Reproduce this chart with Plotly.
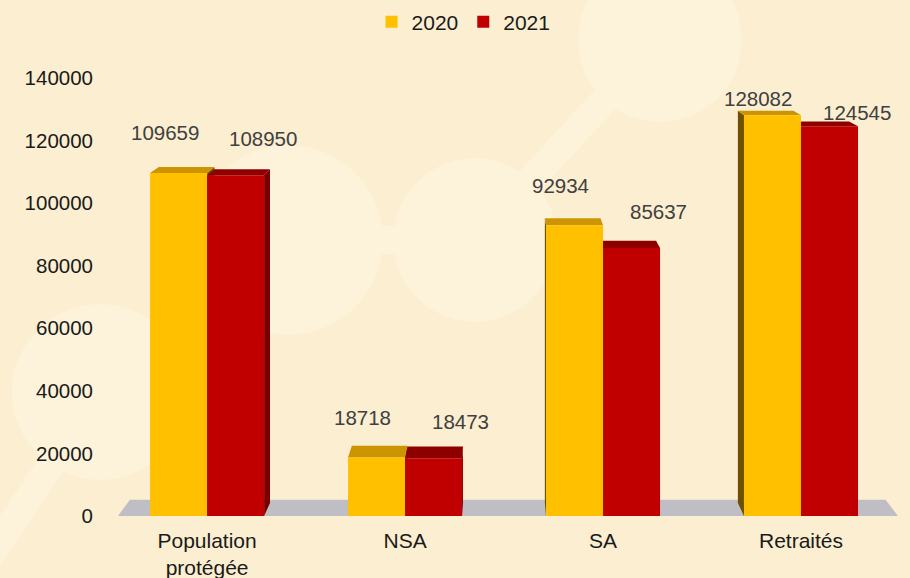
import plotly.graph_objects as go

# Données
categories = ["Population<br>protégée", "NSA", "SA", "Retraités"]
years = ["2020", "2021"]
values_2020 = [109659, 18718, 92934, 128082]
values_2021 = [108950, 18473, 85637, 124545]
y_ticks = [0, 20000, 40000, 60000, 80000, 100000, 120000, 140000]

# Mise en page (pixels)
W, H = 910, 578
M_L, M_R, M_T, M_B = 118, 12, 78, 62
PLOT_W = W - M_L - M_R
PLOT_H = H - M_T - M_B
X_RANGE = [-0.45, 3.49]
Y_RANGE = [0, 140000]
BAR_W = 0.288

BG = "#FCEED0"
BG_LIGHT = "#FDF2DA"
FONT = "Liberation Sans, Arial, sans-serif"

# couleurs: face avant, dessus, côté
COLORS = {
    "2020": ("#FFC000", "#CC9400", "#6E5000"),
    "2021": ("#C00000", "#8E0000", "#780000"),
}

# perspective simple pour l'effet 3D
EYE_X, EYE_Y = 500, -104
DEPTH_X, DEPTH_Y = 0.025, 0.021


def to_px(x, y):
    px = M_L + (x - X_RANGE[0]) / (X_RANGE[1] - X_RANGE[0]) * PLOT_W
    py = M_T + PLOT_H - (y - Y_RANGE[0]) / (Y_RANGE[1] - Y_RANGE[0]) * PLOT_H
    return px, py


def to_data(px, py):
    x = X_RANGE[0] + (px - M_L) / PLOT_W * (X_RANGE[1] - X_RANGE[0])
    y = Y_RANGE[0] + (M_T + PLOT_H - py) / PLOT_H * (Y_RANGE[1] - Y_RANGE[0])
    return x, y


def to_paper(px, py):
    return (px - M_L) / PLOT_W, (M_T + PLOT_H - py) / PLOT_H


def back(x, y, k=1.0):
    px, py = to_px(x, y)
    bx = px + (EYE_X - px) * DEPTH_X * k
    by = py + (EYE_Y - py) * DEPTH_Y * k
    return to_data(bx, by)


def path(points):
    return "M " + " L ".join(f"{x},{y}" for x, y in points) + " Z"


shapes = []

# --------------------------------------------------
# Décor de fond (cercles clairs)
# --------------------------------------------------
for cx, cy, r in [(660, 40, 82), (475, 240, 82), (288, 240, 95), (100, 392, 88)]:
    x0, y0 = to_paper(cx - r, cy + r)
    x1, y1 = to_paper(cx + r, cy - r)
    shapes.append(dict(type="circle", xref="paper", yref="paper",
                       x0=x0, y0=y0, x1=x1, y1=y1,
                       fillcolor=BG_LIGHT, line_width=0, layer="below"))

for (ax, ay), (bx, by) in [((475, 240), (660, 40)), ((288, 240), (475, 240)),
                           ((100, 392), (-40, 600))]:
    x0, y0 = to_paper(ax, ay)
    x1, y1 = to_paper(bx, by)
    shapes.append(dict(type="line", xref="paper", yref="paper",
                       x0=x0, y0=y0, x1=x1, y1=y1,
                       line=dict(color=BG_LIGHT, width=28), layer="below"))

# --------------------------------------------------
# Sol gris
# --------------------------------------------------
fl, fr = X_RANGE
shapes.append(dict(type="path", xref="x", yref="y", layer="below",
                   path=path([(fl, 0), (fr, 0), back(fr, 0, 1.25), back(fl, 0, 1.25)]),
                   fillcolor="#BEBEC4", line_width=0))

# --------------------------------------------------
# Faces 3D (dessus + côté), cachées en partie par les faces avant
# --------------------------------------------------
series = [("2020", values_2020, -BAR_W), ("2021", values_2021, 0.0)]

for year, vals, off in series:
    front, top, side = COLORS[year]
    for i, v in enumerate(vals):
        x0, x1 = i + off, i + off + BAR_W
        b0 = back(x0, v)
        b1 = back(x1, v)
        if b0[0] < x0:
            sx = x0
        else:
            sx = x1
        shapes.append(dict(type="path", xref="x", yref="y", layer="below",
                           path=path([(sx, 0), (sx, v), back(sx, v), back(sx, 0)]),
                           fillcolor=side, line_width=0))
        shapes.append(dict(type="path", xref="x", yref="y", layer="below",
                           path=path([(x0, v), (x1, v), b1, b0]),
                           fillcolor=top, line_width=0))

fig = go.Figure()

for year, vals, off in series:
    fig.add_trace(go.Bar(
        x=list(range(len(categories))),
        y=vals,
        name=year,
        width=BAR_W,
        offset=off,
        marker=dict(color=COLORS[year][0], line_width=0),
        hoverinfo="skip",
    ))

# --------------------------------------------------
# Étiquettes de valeurs
# --------------------------------------------------
annotations = []
label_rules = {
    "2020": dict(lift=12800, cap=133600, xshift=-14),
    "2021": dict(lift=11800, cap=129100, xshift=27),
}
for year, vals, off in series:
    rule = label_rules[year]
    for i, v in enumerate(vals):
        annotations.append(dict(
            x=i + off + BAR_W / 2,
            y=min(v + rule["lift"], rule["cap"]),
            xref="x", yref="y",
            text=str(v),
            showarrow=False,
            xshift=rule["xshift"],
            font=dict(family=FONT, size=20.5, color="#404040"),
        ))

fig.update_layout(
    width=W, height=H,
    margin=dict(l=M_L, r=M_R, t=M_T, b=M_B, autoexpand=False),
    paper_bgcolor=BG,
    plot_bgcolor="rgba(0,0,0,0)",
    barmode="overlay",
    shapes=shapes,
    annotations=annotations,
    font=dict(family=FONT, size=20, color="#1A1A1A"),
    legend=dict(
        orientation="h",
        x=0.443, xanchor="center",
        y=to_paper(0, 22)[1], yanchor="middle",
        font=dict(size=21, color="#1A1A1A"),
        itemwidth=30,
        bgcolor="rgba(0,0,0,0)",
    ),
    xaxis=dict(
        range=X_RANGE,
        tickvals=list(range(len(categories))),
        ticktext=categories,
        showgrid=False, zeroline=False, showline=False,
        tickfont=dict(size=21, color="#1A1A1A"),
        ticklabelstandoff=10,
        automargin=False,
    ),
    yaxis=dict(
        range=Y_RANGE,
        tickvals=y_ticks,
        ticktext=[str(t) for t in y_ticks],
        showgrid=False, zeroline=False, showline=False,
        tickfont=dict(size=20.5, color="#1A1A1A"),
        ticklabelstandoff=24,
        automargin=False,
    ),
)

fig.write_html(
    "out.html",
    config={"displayModeBar": False},
    post_script="document.body.style.margin='0';",
)
